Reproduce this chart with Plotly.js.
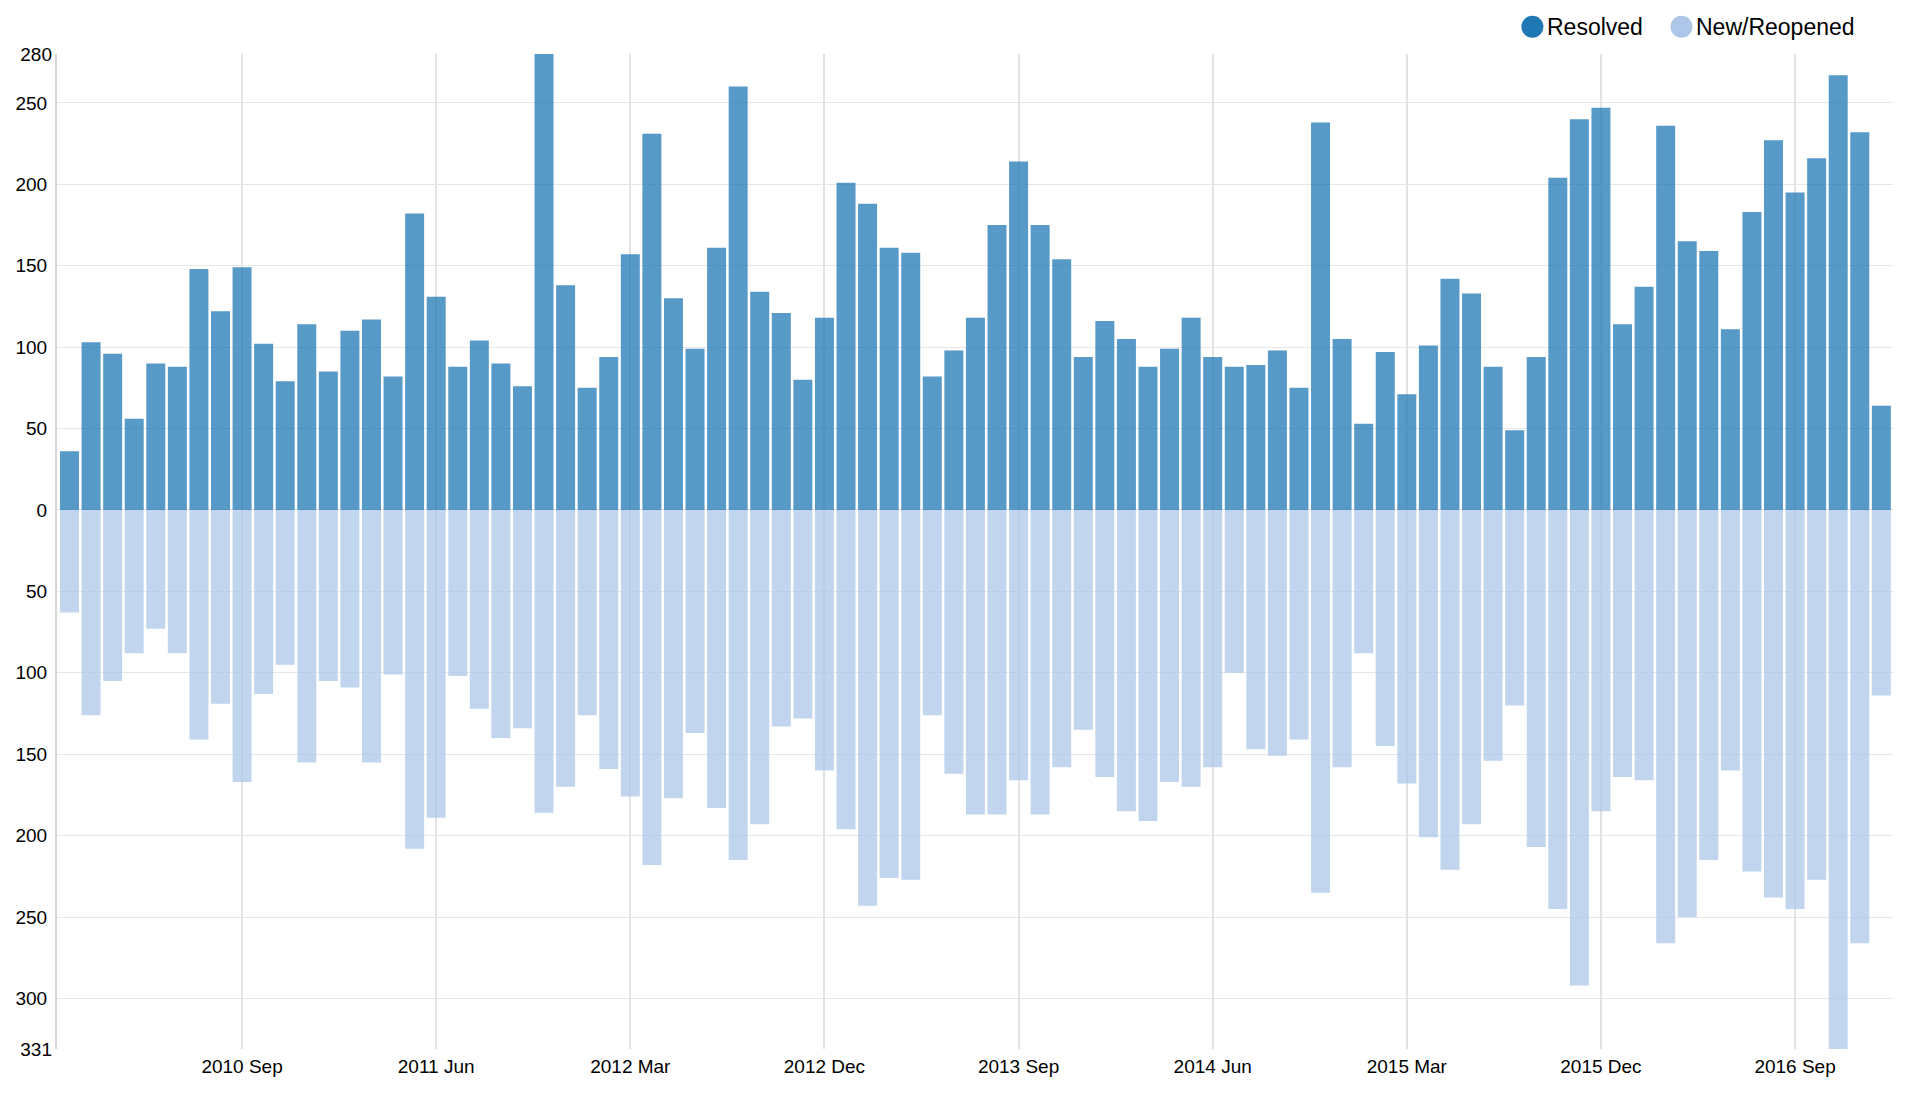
<!DOCTYPE html>
<html>
<head>
<meta charset="utf-8">
<script src="https://cdn.plot.ly/plotly-3.0.1.min.js"></script>
<style>
  html, body { margin: 0; padding: 0; background: #fff; }
  #chart { width: 1920px; height: 1099px; }
</style>
</head>
<body>
<div id="chart"></div>
<script>
const months = [
  '2010 Jan','2010 Feb','2010 Mar','2010 Apr','2010 May','2010 Jun','2010 Jul','2010 Aug','2010 Sep','2010 Oct','2010 Nov','2010 Dec',
  '2011 Jan','2011 Feb','2011 Mar','2011 Apr','2011 May','2011 Jun','2011 Jul','2011 Aug','2011 Sep','2011 Oct','2011 Nov','2011 Dec',
  '2012 Jan','2012 Feb','2012 Mar','2012 Apr','2012 May','2012 Jun','2012 Jul','2012 Aug','2012 Sep','2012 Oct','2012 Nov','2012 Dec',
  '2013 Jan','2013 Feb','2013 Mar','2013 Apr','2013 May','2013 Jun','2013 Jul','2013 Aug','2013 Sep','2013 Oct','2013 Nov','2013 Dec',
  '2014 Jan','2014 Feb','2014 Mar','2014 Apr','2014 May','2014 Jun','2014 Jul','2014 Aug','2014 Sep','2014 Oct','2014 Nov','2014 Dec',
  '2015 Jan','2015 Feb','2015 Mar','2015 Apr','2015 May','2015 Jun','2015 Jul','2015 Aug','2015 Sep','2015 Oct','2015 Nov','2015 Dec',
  '2016 Jan','2016 Feb','2016 Mar','2016 Apr','2016 May','2016 Jun','2016 Jul','2016 Aug','2016 Sep','2016 Oct','2016 Nov','2016 Dec',
  '2017 Jan'
];

const resolved = [
  36,103,96,56,90,88,148,122,149,102,79,114,
  85,110,117,82,182,131,88,104,90,76,280,138,
  75,94,157,231,130,99,161,260,134,121,80,118,
  201,188,161,158,82,98,118,175,214,175,154,94,
  116,105,88,99,118,94,88,89,98,75,238,105,
  53,97,71,101,142,133,88,49,94,204,240,247,
  114,137,236,165,159,111,183,227,195,216,267,232,
  64
];

const newReopened = [
  63,126,105,88,73,88,141,119,167,113,95,155,
  105,109,155,101,208,189,102,122,140,134,186,170,
  126,159,176,218,177,137,183,215,193,133,128,160,
  196,243,226,227,126,162,187,187,166,187,158,135,
  164,185,191,167,170,158,100,147,151,141,235,158,
  88,145,168,201,221,193,154,120,207,245,292,185,
  164,166,266,250,215,160,222,238,245,227,331,266,
  114
];

const xTickLabels = ['2010 Sep','2011 Jun','2012 Mar','2012 Dec','2013 Sep','2014 Jun','2015 Mar','2015 Dec','2016 Sep'];
const yTickValues = [250,200,150,100,50,0,-50,-100,-150,-200,-250,-300];
const yTickLabels = ['250','200','150','100','50','0','50','100','150','200','250','300'];
const yEdgeValues = [280,-331];
const yEdgeLabels = ['280','331'];
const seriesNames = ['Resolved','New/Reopened'];
const seriesColors = ['#1f77b4','#aec7e8'];

const font = 'Liberation Sans, Arial, sans-serif';

const traces = [
  {
    type: 'bar', x: months, y: resolved, name: seriesNames[0],
    marker: { color: seriesColors[0], opacity: 0.75, line: { width: 0 } },
    hoverinfo: 'x+y+name'
  },
  {
    type: 'bar', x: months, y: newReopened.map(v => -v), name: seriesNames[1],
    marker: { color: seriesColors[1], opacity: 0.75, line: { width: 0 } },
    customdata: newReopened, hovertemplate: '%{x}: %{customdata}<extra>' + seriesNames[1] + '</extra>'
  },
  {
    type: 'scatter', mode: 'markers', x: [null], y: [null], yaxis: 'y2',
    showlegend: false, hoverinfo: 'skip'
  }
];

// custom legend (circles + labels) placed above the plot, right side
const legendX = [0.8036, 0.8848];   // circle centres (paper)
const legendY = 1.0274;
const shapes = seriesNames.map((n, i) => ({
  type: 'circle', xref: 'paper', yref: 'paper',
  xsizemode: 'pixel', ysizemode: 'pixel',
  xanchor: legendX[i], yanchor: legendY,
  x0: -11, x1: 11, y0: -11, y1: 11,
  fillcolor: seriesColors[i], line: { width: 0 }
}));
const annotations = seriesNames.map((n, i) => ({
  text: n, xref: 'paper', yref: 'paper',
  x: legendX[i], y: legendY, xanchor: 'left', yanchor: 'middle',
  xshift: 13, showarrow: false,
  font: { family: font, size: 23, color: '#000' }
}));

const layout = {
  width: 1920, height: 1099,
  paper_bgcolor: '#fff', plot_bgcolor: '#fff',
  margin: { l: 57, r: 27, t: 54, b: 50 },
  barmode: 'relative',
  bargap: 0.12,
  font: { family: font, size: 19, color: '#000' },
  showlegend: false,
  shapes: shapes,
  annotations: annotations,
  xaxis: {
    type: 'category',
    categoryorder: 'array', categoryarray: months,
    range: [-0.58, 84.54],
    tickvals: xTickLabels, ticktext: xTickLabels,
    showgrid: true, gridcolor: '#e3e3e3', gridwidth: 2,
    zeroline: false, showline: false, ticks: '',
    tickfont: { family: font, size: 19, color: '#000' },
    ticklabelstandoff: 4,
    fixedrange: true
  },
  yaxis: {
    range: [-331, 280],
    tickvals: yTickValues, ticktext: yTickLabels,
    showgrid: true, gridcolor: '#e6e6e6', gridwidth: 1,
    zeroline: false,
    showline: true, linecolor: '#d6d6d6', linewidth: 2,
    ticks: '',
    ticklabelstandoff: 4,
    tickfont: { family: font, size: 19, color: '#000' },
    fixedrange: true
  },
  yaxis2: {
    overlaying: 'y', side: 'left',
    range: [-331, 280],
    tickvals: yEdgeValues, ticktext: yEdgeLabels,
    showgrid: false, zeroline: false, showline: false, ticks: '',
    ticklabelstandoff: 4,
    tickfont: { family: font, size: 19, color: '#000' },
    fixedrange: true
  }
};

Plotly.newPlot('chart', traces, layout, { displayModeBar: false });
</script>
</body>
</html>
